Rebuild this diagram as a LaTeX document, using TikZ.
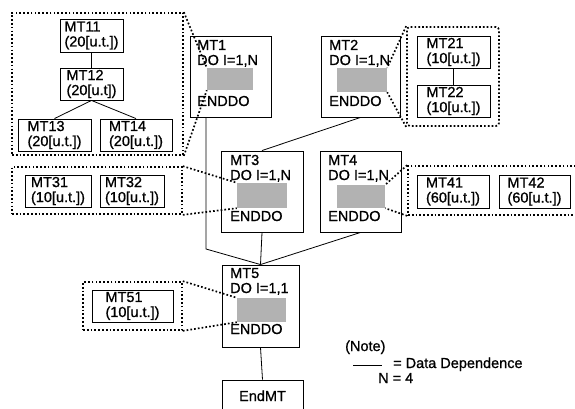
\documentclass[tikz,border=0pt]{standalone}
\usepackage{fontspec}
\setmainfont{Liberation Sans}[FakeBold=0.9,BoldFont=Liberation Sans,BoldFeatures={FakeBold=0.9}]
\newfontfamily\heavy{Liberation Sans}[FakeBold=0.9]
\begin{document}
\begin{tikzpicture}[x=1pt,y=-1pt,
  every node/.style={font=\heavy\fontsize{14.5}{15}\selectfont},
  task/.style={draw,line width=0.9pt,align=left,inner sep=0pt,minimum height=32pt},
  loopbox/.style={draw,line width=0.9pt,inner sep=0pt},
  shadebox/.style={fill=black!30,inner sep=0pt},
  grp/.style={draw,line width=1.7pt,dash pattern=on 1.7pt off 2.1pt,inner sep=0pt},
  grpline/.style={line width=1.7pt,dash pattern=on 1.7pt off 2.1pt},
  lbl/.style={anchor=base west,inner sep=0pt},
  conn/.style={line width=0.8pt}]
\useasboundingbox (0,0) rectangle (575,409);
\clip (0,0) rectangle (575,409);

% ---- group boxes (dotted)
\node[grp,minimum width=171pt,minimum height=142pt] (G1) at (97.5,84) {};
\node[grp,rounded corners=3pt,minimum width=92pt,minimum height=99pt] (G2) at (453,76.5) {};
\node[grp,minimum width=170pt,minimum height=47pt] (G3) at (97,190.5) {};
\node[grp,minimum width=200pt,minimum height=49pt] (G4) at (508,190.5) {};
\node[grp,minimum width=99pt,minimum height=48pt] (G5) at (132.5,306) {};

% ---- task boxes
\node[task,minimum width=63pt,minimum height=33pt] (MT11) at (91.5,35.5) {MT11\\(20[u.t.])};
\node[task,minimum width=63pt] (MT12) at (91.5,84) {MT12\\(20[u.t])};
\node[task,minimum width=73pt] (MT13) at (54.5,135) {MT13\\(20[u.t.])};
\node[task,minimum width=72pt] (MT14) at (136,135) {MT14\\(20[u.t.])};
\node[task,minimum width=73pt] (MT21) at (453.5,52) {MT21\\(10[u.t.])};
\node[task,minimum width=73pt] (MT22) at (453.5,101) {MT22\\(10[u.t.])};
\node[task,minimum width=66pt] (MT31) at (58,191) {MT31\\(10[u.t.])};
\node[task,minimum width=64pt] (MT32) at (132,191) {MT32\\(10[u.t.])};
\node[task,minimum width=72pt,minimum height=33pt] (MT41) at (453,191.5) {MT41\\(60[u.t.])};
\node[task,minimum width=71pt,minimum height=33pt] (MT42) at (534.5,191.5) {MT42\\(60[u.t.])};
\node[task,minimum width=81pt] (MT51) at (132.5,306) {MT51\\(10[u.t.])};

% ---- loop boxes
\node[loopbox,minimum width=81pt,minimum height=81pt] (MT1) at (230.5,76.5) {};
\node[loopbox,minimum width=79pt,minimum height=81pt] (MT2) at (360.5,76.5) {};
\node[loopbox,minimum width=82pt,minimum height=81pt] (MT3) at (262,191.5) {};
\node[loopbox,minimum width=81pt,minimum height=81pt] (MT4) at (360.5,191.5) {};
\node[loopbox,minimum width=77pt,minimum height=82pt] (MT5) at (260.5,306) {};
\node[loopbox,minimum width=81pt,minimum height=60pt] (End) at (262.5,410) {};

% ---- shaded inner loops
\node[shadebox,minimum width=46pt,minimum height=22pt] (S1) at (230,79) {};
\node[shadebox,minimum width=50pt,minimum height=24pt] (S2) at (362,80) {};
\node[shadebox,minimum width=50pt,minimum height=25pt] (S3) at (262,195.5) {};
\node[shadebox,minimum width=48pt,minimum height=23pt] (S4) at (361,196.5) {};
\node[shadebox,minimum width=49pt,minimum height=24pt] (S5) at (261.5,310) {};

% ---- loop box texts
\node[lbl] (t1a) at (197,50) {MT1};
\node[lbl] (t1b) at (197,65) {DO I=1,N};
\node[lbl] (t1c) at (197,106) {ENDDO};
\node[lbl] (t2a) at (329,50) {MT2};
\node[lbl] (t2b) at (329,65) {DO I=1,N};
\node[lbl] (t2c) at (329,106) {ENDDO};
\node[lbl] (t3a) at (230,165) {MT3};
\node[lbl] (t3b) at (230,180) {DO I=1,N};
\node[lbl] (t3c) at (230,221) {ENDDO};
\node[lbl] (t4a) at (328,165) {MT4};
\node[lbl] (t4b) at (328,180) {DO I=1,N};
\node[lbl] (t4c) at (328,221) {ENDDO};
\node[lbl] (t5a) at (230,278) {MT5};
\node[lbl] (t5b) at (230,293) {DO I=1,1};
\node[lbl] (t5c) at (230,334) {ENDDO};
\node[anchor=base,inner sep=0pt] (t6) at (262.5,401) {EndMT};

% ---- dotted expansion lines
\draw[grpline] (G1.north east) -- (S1.north west);
\draw[grpline] (G1.south east) -- (S1.south west);
\draw[grpline] (G2.north west) -- (S2.north east);
\draw[grpline] (G2.south west) -- (S2.south east);
\draw[grpline] (G3.north east) -- (S3.north west);
\draw[grpline] (G3.south east) -- (S3.south west);
\draw[grpline] (G4.north west) -- (S4.north east);
\draw[grpline] (G4.south west) -- (S4.south east);
\draw[grpline] (G5.north east) -- (S5.north west);
\draw[grpline] (G5.south east) -- (S5.south west);

% ---- data dependence connectors
\draw[conn] (MT11.south) -- (MT12.north);
\draw[conn] (MT12.south) -- (MT13.north);
\draw[conn] (MT12.south) -- (MT14.north);
\draw[conn] (MT21.south) -- (MT22.north);
\coordinate (c1) at (206,249);
\draw[conn] (c1 |- MT1.south) -- (c1) -- (MT5.north);
\draw[conn] (MT2.south) -- (MT3.north);
\draw[conn] (MT3.south) -- (MT5.north);
\draw[conn] (MT4.south) -- (MT5.north);
\draw[conn] (MT5.south) -- (End.north);

% ---- legend
\node[lbl] (note) at (345,351) {(Note)};
\coordinate (l1) at (353,365);
\coordinate (l2) at (382,365);
\draw[conn] (l1) -- (l2);
\node[lbl] (dd) at (393,368) {= Data Dependence};
\node[lbl] (nn) at (378,383) {N = 4};
\end{tikzpicture}
\end{document}
